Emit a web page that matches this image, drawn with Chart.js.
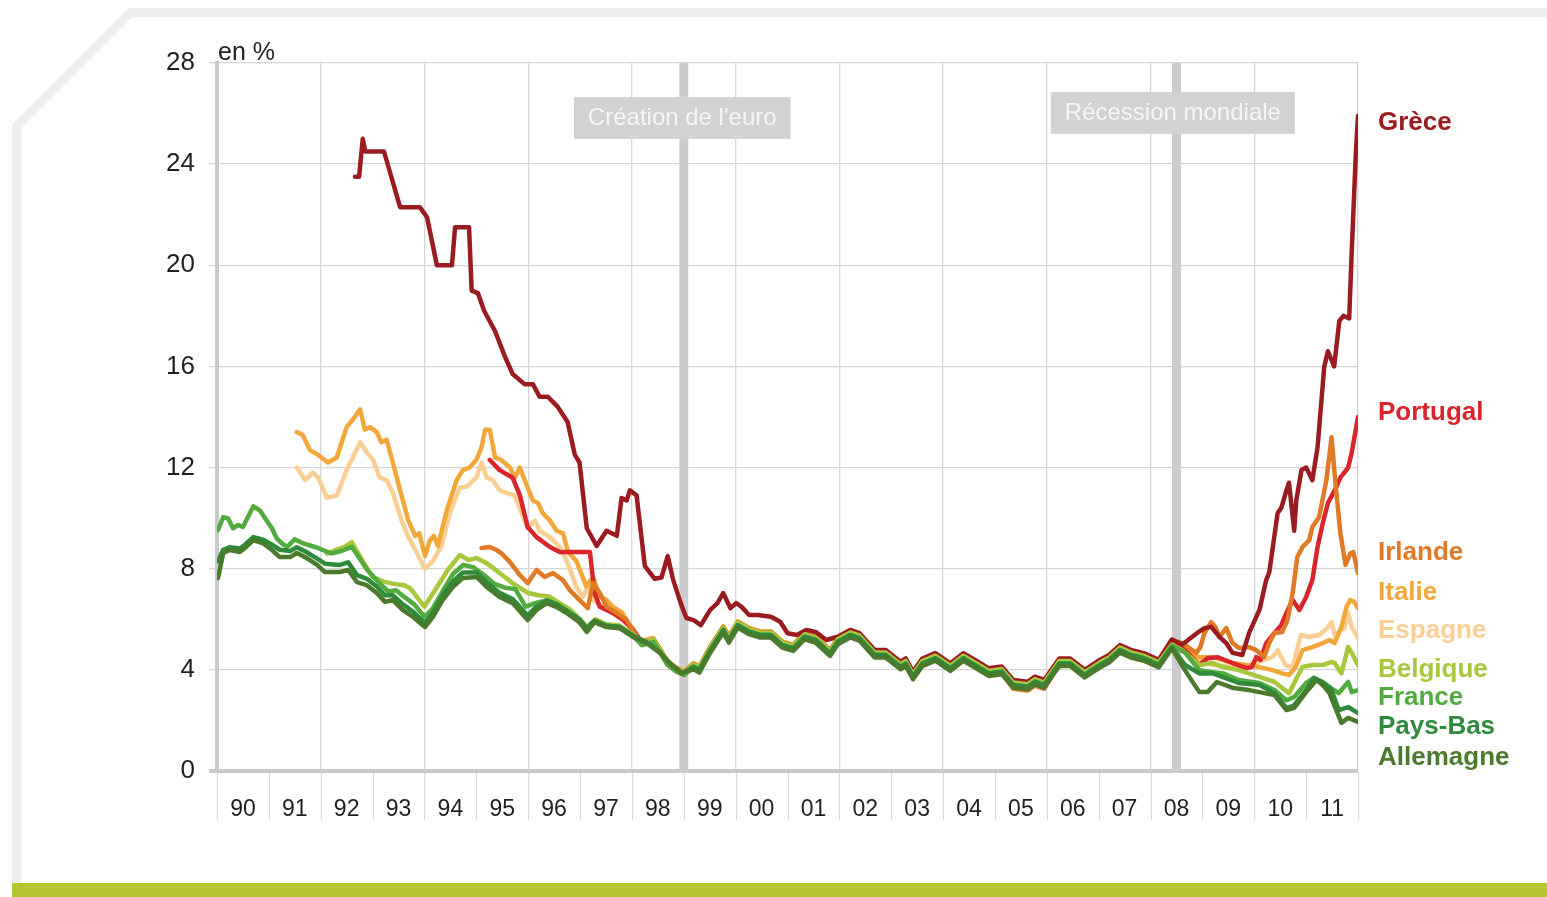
<!DOCTYPE html>
<html>
<head>
<meta charset="utf-8">
<script src="https://cdn.jsdelivr.net/npm/chart.js@4.4.1/dist/chart.umd.min.js"></script>
<style>
html,body{margin:0;padding:0;background:#ffffff;}
#wrap{position:relative;width:1547px;height:897px;}
canvas{display:block;}
</style>
</head>
<body>
<div id="wrap"><canvas id="c" width="1547" height="897"></canvas></div>
<script>
// ---------- DATA (taux d'intérêt à 10 ans, en %) ----------
const yearLabels = ['90','91','92','93','94','95','96','97','98','99','00','01','02','03','04','05','06','07','08','09','10','11'];

const grece = [[1992.66,23.5],[1992.74,23.5],[1992.81,25.0],[1992.86,24.5],[1993.22,24.5],[1993.53,22.3],[1993.91,22.3],[1994.05,21.9],[1994.24,20.0],[1994.53,20.0],[1994.59,21.5],[1994.86,21.5],[1994.91,19.0],[1995.03,18.9],[1995.15,18.2],[1995.36,17.4],[1995.55,16.4],[1995.70,15.7],[1995.93,15.3],[1996.09,15.3],[1996.22,14.8],[1996.38,14.8],[1996.57,14.4],[1996.76,13.8],[1996.90,12.5],[1996.99,12.2],[1997.13,9.6],[1997.32,8.9],[1997.51,9.5],[1997.71,9.3],[1997.80,10.8],[1997.90,10.7],[1997.96,11.1],[1998.09,10.9],[1998.25,8.1],[1998.44,7.6],[1998.57,7.65],[1998.69,8.5],[1998.79,7.6],[1998.94,6.64],[1999.05,6.05],[1999.19,5.97],[1999.33,5.77],[1999.51,6.37],[1999.65,6.64],[1999.76,7.04],[1999.90,6.44],[2000.01,6.64],[2000.11,6.5],[2000.26,6.17],[2000.43,6.17],[2000.68,6.1],[2000.86,5.9],[2001.00,5.45],[2001.18,5.38],[2001.36,5.58],[2001.54,5.5],[2001.75,5.18],
[2001.97,5.31],[2002.21,5.58],[2002.39,5.45],[2002.68,4.79],[2002.89,4.79],[2003.18,4.32],[2003.28,4.45],[2003.42,3.93],[2003.60,4.45],[2003.85,4.66],[2004.14,4.26],[2004.39,4.66],[2004.67,4.32],[2004.88,4.06],[2005.13,4.13],[2005.35,3.60],[2005.63,3.53],[2005.77,3.73],[2005.95,3.60],[2006.24,4.45],[2006.45,4.45],[2006.73,4.00],[2007.02,4.39],[2007.20,4.59],[2007.41,4.98],[2007.62,4.79],[2007.87,4.66],[2008.16,4.40],
[2008.41,5.2],[2008.61,5.0],[2008.90,5.46],[2009.04,5.65],[2009.17,5.7],[2009.33,5.3],[2009.46,5.06],[2009.58,4.67],[2009.77,4.59],[2009.90,5.46],[2010.10,6.37],[2010.23,7.55],[2010.29,7.87],[2010.45,10.2],[2010.52,10.4],[2010.62,11.1],[2010.67,11.4],[2010.77,9.5],[2010.81,10.7],[2010.91,11.9],[2011.00,12.0],[2011.12,11.5],[2011.22,12.8],[2011.35,16.0],[2011.42,16.6],[2011.54,16.0],[2011.64,17.8],[2011.72,18.0],[2011.83,17.9],[2011.88,20.6],[2011.96,24.5],[2012.00,25.9]];

const portugal = [[1995.26,12.3],[1995.45,11.9],[1995.70,11.6],[1995.84,10.9],[1995.99,9.65],[1996.16,9.25],[1996.42,8.86],[1996.61,8.66],[1997.19,8.66],[1997.28,7.04],[1997.38,6.5],[1997.63,6.25],[1997.82,6.0],[1998.02,5.6],
[1998.19,5.08],[1998.41,5.21],[1998.54,4.80],[1998.69,4.29],[1998.85,4.05],[1999.01,3.90],[1999.19,4.22],[1999.30,4.09],[1999.51,4.88],[1999.76,5.68],[1999.87,5.28],[2000.04,5.87],[2000.26,5.61],[2000.47,5.48],[2000.68,5.48],[2000.90,5.08],[2001.11,4.95],[2001.33,5.41],[2001.54,5.28],[2001.82,4.75],[2001.97,5.21],[2002.21,5.48],[2002.39,5.35],[2002.68,4.69],[2002.89,4.69],[2003.18,4.22],[2003.28,4.35],[2003.42,3.83],[2003.60,4.35],[2003.85,4.56],[2004.14,4.16],[2004.39,4.56],[2004.67,4.22],[2004.88,3.96],[2005.13,4.03],[2005.35,3.50],[2005.63,3.43],[2005.77,3.63],[2005.95,3.50],[2006.24,4.35],[2006.45,4.35],[2006.73,3.90],[2007.02,4.29],[2007.20,4.49],[2007.41,4.88],[2007.62,4.69],[2007.87,4.56],[2008.16,4.30],
[2008.41,5.15],[2008.61,4.9],[2008.94,4.19],[2009.10,4.46],[2009.30,4.5],[2009.58,4.27],[2009.85,4.07],[2009.95,4.11],[2010.04,4.5],[2010.12,4.39],[2010.23,5.06],[2010.39,5.46],[2010.52,5.77],[2010.62,6.25],[2010.74,6.76],[2010.87,6.37],[2011.00,6.88],[2011.12,7.55],[2011.22,8.86],[2011.32,9.8],[2011.42,10.6],[2011.55,11.1],[2011.66,11.6],[2011.81,12.0],[2011.88,12.6],[2012.00,14.0]];

const irlande = [[1995.10,8.82],[1995.26,8.86],[1995.39,8.74],[1995.48,8.62],[1995.65,8.26],[1995.84,7.75],[1995.99,7.43],[1996.16,7.95],[1996.32,7.67],[1996.48,7.83],[1996.67,7.55],[1996.80,7.16],[1996.99,6.76],[1997.15,6.44],[1997.25,7.43],[1997.38,7.04],[1997.51,6.5],[1997.71,6.25],[1997.90,5.97],
[1998.19,4.98],[1998.41,5.11],[1998.54,4.70],[1998.69,4.19],[1998.85,3.95],[1999.01,3.80],[1999.19,4.12],[1999.30,3.99],[1999.51,4.78],[1999.76,5.58],[1999.87,5.18],[2000.04,5.77],[2000.26,5.51],[2000.47,5.38],[2000.68,5.38],[2000.90,4.98],[2001.11,4.85],[2001.33,5.31],[2001.54,5.18],[2001.82,4.65],[2001.97,5.11],[2002.21,5.38],[2002.39,5.25],[2002.68,4.59],[2002.89,4.59],[2003.18,4.12],[2003.28,4.25],[2003.42,3.73],[2003.60,4.25],[2003.85,4.46],[2004.14,4.06],[2004.39,4.46],[2004.67,4.12],[2004.88,3.86],[2005.13,3.93],[2005.35,3.25],[2005.63,3.18],[2005.77,3.38],[2005.95,3.25],[2006.24,4.25],[2006.45,4.25],[2006.73,3.80],[2007.02,4.19],[2007.20,4.39],[2007.41,4.78],[2007.62,4.59],[2007.87,4.46],[2008.16,4.20],
[2008.41,5.18],[2008.61,5.06],[2008.88,4.67],[2008.96,4.9],[2009.04,5.46],[2009.17,5.89],[2009.25,5.69],[2009.33,5.3],[2009.46,5.65],[2009.58,5.06],[2009.71,4.86],[2009.90,4.9],[2010.04,4.78],[2010.19,4.5],[2010.29,5.06],[2010.39,5.46],[2010.54,5.5],[2010.64,5.97],[2010.74,7.04],[2010.83,8.46],[2010.93,8.86],[2011.06,9.13],[2011.12,9.65],[2011.25,10.04],[2011.39,11.5],[2011.49,13.2],[2011.56,11.5],[2011.66,9.4],[2011.76,8.15],[2011.85,8.6],[2011.91,8.66],[2012.00,7.83]];

const italie = [[1991.54,13.4],[1991.65,13.3],[1991.79,12.7],[1991.95,12.5],[1992.14,12.2],[1992.31,12.4],[1992.50,13.6],[1992.62,13.9],[1992.76,14.3],[1992.85,13.5],[1992.95,13.6],[1993.08,13.4],[1993.17,13.0],[1993.27,13.1],[1993.39,12.2],[1993.53,11.1],[1993.69,9.9],[1993.82,9.3],[1993.90,9.4],[1994.01,8.5],[1994.10,9.1],[1994.18,9.3],[1994.26,8.9],[1994.43,10.3],[1994.62,11.5],[1994.74,11.9],[1994.87,12.0],[1995.00,12.3],[1995.10,12.8],[1995.17,13.5],[1995.26,13.5],[1995.36,12.4],[1995.48,12.3],[1995.65,12.0],[1995.74,11.6],[1995.84,12.0],[1995.99,11.2],[1996.09,10.7],[1996.19,10.6],[1996.28,10.2],[1996.42,9.9],[1996.55,9.5],[1996.67,9.4],[1996.77,8.66],[1996.93,8.3],[1997.12,7.3],[1997.25,7.67],[1997.38,6.9],[1997.51,6.76],[1997.63,6.5],[1997.82,6.25],[1997.96,5.7],
[1998.19,5.13],[1998.41,5.26],[1998.54,4.85],[1998.69,4.34],[1998.85,4.10],[1999.01,3.95],[1999.19,4.27],[1999.30,4.14],[1999.51,4.93],[1999.76,5.73],[1999.87,5.33],[2000.04,5.92],[2000.26,5.66],[2000.47,5.53],[2000.68,5.53],[2000.90,5.13],[2001.11,5.00],[2001.33,5.46],[2001.54,5.33],[2001.82,4.80],[2001.97,5.26],[2002.21,5.53],[2002.39,5.40],[2002.68,4.74],[2002.89,4.74],[2003.18,4.27],[2003.28,4.40],[2003.42,3.88],[2003.60,4.40],[2003.85,4.61],[2004.14,4.21],[2004.39,4.61],[2004.67,4.27],[2004.88,4.01],[2005.13,4.08],[2005.35,3.55],[2005.63,3.48],[2005.77,3.68],[2005.95,3.55],[2006.24,4.40],[2006.45,4.40],[2006.73,3.95],[2007.02,4.34],[2007.20,4.54],[2007.41,4.93],[2007.62,4.74],[2007.87,4.61],[2008.16,4.35],
[2008.41,5.0],[2008.61,4.78],[2008.94,4.5],[2009.20,4.5],[2009.58,4.27],[2009.85,4.19],[2010.10,4.11],[2010.35,3.99],[2010.54,3.86],[2010.67,3.8],[2010.80,4.11],[2010.93,4.78],[2011.12,4.9],[2011.32,5.06],[2011.45,5.18],[2011.55,5.06],[2011.68,5.69],[2011.78,6.5],[2011.85,6.76],[2011.92,6.7],[2012.00,6.44]];

const espagne = [[1991.54,12.0],[1991.70,11.5],[1991.85,11.8],[1991.95,11.6],[1992.12,10.8],[1992.31,10.9],[1992.50,11.9],[1992.76,13.0],[1992.89,12.6],[1993.01,12.3],[1993.14,11.6],[1993.27,11.5],[1993.39,11.0],[1993.56,9.9],[1993.69,9.25],[1993.86,8.6],[1994.01,8.0],[1994.16,8.3],[1994.33,8.9],[1994.49,10.2],[1994.68,11.2],[1994.82,11.25],[1995.00,11.6],[1995.10,12.2],[1995.20,11.6],[1995.32,11.5],[1995.45,11.1],[1995.58,11.0],[1995.74,10.9],[1995.99,9.6],[1996.13,9.9],[1996.22,9.5],[1996.42,9.25],[1996.61,8.86],[1996.74,8.34],[1996.93,7.28],[1997.05,6.88],[1997.15,7.28],[1997.25,6.76],[1997.44,6.5],[1997.63,6.25],[1997.82,5.97],[1998.02,5.65],
[1998.19,4.98],[1998.41,5.11],[1998.54,4.70],[1998.69,4.19],[1998.85,3.95],[1999.01,3.80],[1999.19,4.12],[1999.30,3.99],[1999.51,4.78],[1999.76,5.58],[1999.87,5.18],[2000.04,5.77],[2000.26,5.51],[2000.47,5.38],[2000.68,5.38],[2000.90,4.98],[2001.11,4.85],[2001.33,5.31],[2001.54,5.18],[2001.82,4.65],[2001.97,5.11],[2002.21,5.38],[2002.39,5.25],[2002.68,4.59],[2002.89,4.59],[2003.18,4.12],[2003.28,4.25],[2003.42,3.73],[2003.60,4.25],[2003.85,4.46],[2004.14,4.06],[2004.39,4.46],[2004.67,4.12],[2004.88,3.86],[2005.13,3.93],[2005.35,3.40],[2005.63,3.33],[2005.77,3.53],[2005.95,3.40],[2006.24,4.25],[2006.45,4.25],[2006.73,3.80],[2007.02,4.19],[2007.20,4.39],[2007.41,4.78],[2007.62,4.59],[2007.87,4.46],[2008.16,4.20],
[2008.41,5.0],[2008.61,4.78],[2008.94,4.39],[2009.20,4.19],[2009.58,4.11],[2009.85,4.11],[2010.00,4.27],[2010.35,4.5],[2010.45,4.78],[2010.60,4.19],[2010.74,4.11],[2010.90,5.38],[2011.06,5.3],[2011.25,5.38],[2011.41,5.65],[2011.49,5.89],[2011.56,5.3],[2011.66,5.58],[2011.74,5.65],[2011.81,6.25],[2011.88,5.69],[2012.00,5.26]];

const belgique = [[1992.12,8.6],[1992.30,8.75],[1992.45,8.85],[1992.60,9.05],[1992.82,8.26],[1993.00,7.67],[1993.20,7.5],[1993.40,7.4],[1993.60,7.35],[1993.72,7.24],[1994.00,6.5],[1994.23,7.24],[1994.45,7.95],[1994.68,8.54],[1994.85,8.34],[1995.00,8.42],[1995.20,8.22],[1995.45,7.83],[1995.70,7.43],[1996.00,7.04],[1996.20,6.95],[1996.40,6.9],[1996.60,6.65],[1996.80,6.4],[1997.00,6.0],[1997.13,5.7],[1997.30,6.0],[1997.50,5.8],[1997.76,5.75],[1998.02,5.4],
[1998.19,5.08],[1998.41,5.21],[1998.54,4.80],[1998.69,4.29],[1998.85,4.05],[1999.01,3.90],[1999.19,4.22],[1999.30,4.09],[1999.51,4.88],[1999.76,5.68],[1999.87,5.28],[2000.04,5.87],[2000.26,5.61],[2000.47,5.48],[2000.68,5.48],[2000.90,5.08],[2001.11,4.95],[2001.33,5.41],[2001.54,5.28],[2001.82,4.75],[2001.97,5.21],[2002.21,5.48],[2002.39,5.35],[2002.68,4.69],[2002.89,4.69],[2003.18,4.22],[2003.28,4.35],[2003.42,3.83],[2003.60,4.35],[2003.85,4.56],[2004.14,4.16],[2004.39,4.56],[2004.67,4.22],[2004.88,3.96],[2005.13,4.03],[2005.35,3.50],[2005.63,3.43],[2005.77,3.63],[2005.95,3.50],[2006.24,4.35],[2006.45,4.35],[2006.73,3.90],[2007.02,4.29],[2007.20,4.49],[2007.41,4.88],[2007.62,4.69],[2007.87,4.56],[2008.16,4.30],
[2008.41,5.0],[2008.61,4.78],[2008.94,4.19],[2009.20,4.27],[2009.40,4.11],[2009.70,3.99],[2010.10,3.72],[2010.39,3.52],[2010.54,3.28],[2010.67,3.08],[2010.80,3.6],[2010.93,4.11],[2011.12,4.19],[2011.32,4.19],[2011.48,4.31],[2011.55,4.27],[2011.68,3.86],[2011.81,4.9],[2011.88,4.67],[2012.00,4.19]];

const france = [[1990.02,9.53],[1990.12,10.04],[1990.21,10.0],[1990.31,9.6],[1990.41,9.73],[1990.50,9.65],[1990.70,10.47],[1990.83,10.3],[1990.96,9.9],[1991.06,9.6],[1991.15,9.2],[1991.25,9.0],[1991.35,8.86],[1991.50,9.17],[1991.66,9.0],[1991.89,8.86],[1992.04,8.74],[1992.20,8.6],[1992.40,8.7],[1992.60,8.86],[1992.75,8.4],[1992.90,7.95],[1993.10,7.5],[1993.30,7.1],[1993.45,7.15],[1993.60,6.9],[1993.80,6.6],[1994.00,6.1],[1994.15,6.4],[1994.35,7.1],[1994.55,7.8],[1994.75,8.15],[1994.95,8.05],[1995.15,7.75],[1995.35,7.4],[1995.55,7.25],[1995.75,7.2],[1995.95,6.5],[1996.15,6.65],[1996.35,6.75],[1996.55,6.5],[1996.75,6.3],[1996.95,5.95],[1997.13,5.6],[1997.30,5.92],[1997.50,5.72],[1997.76,5.7],[1998.02,5.35],
[1998.19,4.98],[1998.41,5.11],[1998.54,4.70],[1998.69,4.19],[1998.85,3.95],[1999.01,3.80],[1999.19,4.12],[1999.30,3.99],[1999.51,4.78],[1999.76,5.58],[1999.87,5.18],[2000.04,5.77],[2000.26,5.51],[2000.47,5.38],[2000.68,5.38],[2000.90,4.98],[2001.11,4.85],[2001.33,5.31],[2001.54,5.18],[2001.82,4.65],[2001.97,5.11],[2002.21,5.38],[2002.39,5.25],[2002.68,4.59],[2002.89,4.59],[2003.18,4.12],[2003.28,4.25],[2003.42,3.73],[2003.60,4.25],[2003.85,4.46],[2004.14,4.06],[2004.39,4.46],[2004.67,4.12],[2004.88,3.86],[2005.13,3.93],[2005.35,3.40],[2005.63,3.33],[2005.77,3.53],[2005.95,3.40],[2006.24,4.25],[2006.45,4.25],[2006.73,3.80],[2007.02,4.19],[2007.20,4.39],[2007.41,4.78],[2007.62,4.59],[2007.87,4.46],[2008.16,4.20],
[2008.41,4.95],[2008.66,4.7],[2008.94,3.99],[2009.20,3.91],[2009.40,3.86],[2009.70,3.6],[2010.10,3.48],[2010.39,3.2],[2010.62,2.8],[2010.77,2.93],[2011.00,3.48],[2011.15,3.68],[2011.32,3.52],[2011.48,3.28],[2011.63,3.08],[2011.81,3.52],[2011.88,3.12],[2012.00,3.2]];

const paysBas = [[1990.02,8.3],[1990.12,8.75],[1990.25,8.85],[1990.44,8.8],[1990.54,8.95],[1990.70,9.25],[1990.89,9.15],[1991.06,8.95],[1991.21,8.75],[1991.41,8.7],[1991.54,8.85],[1991.73,8.65],[1991.93,8.4],[1992.08,8.2],[1992.37,8.15],[1992.53,8.25],[1992.70,7.75],[1992.89,7.6],[1993.08,7.3],[1993.24,6.95],[1993.39,6.95],[1993.58,6.6],[1993.78,6.3],[1994.01,5.85],[1994.16,6.25],[1994.35,6.95],[1994.55,7.5],[1994.74,7.85],[1995.01,7.85],[1995.20,7.45],[1995.45,7.05],[1995.70,6.8],[1995.99,6.15],[1996.16,6.5],[1996.36,6.75],[1996.55,6.6],[1996.74,6.35],[1996.99,6.0],[1997.13,5.65],[1997.28,5.95],[1997.51,5.75],[1997.76,5.7],[1998.02,5.35],[1998.28,5.1],[1998.54,4.7],[1998.73,4.25],[1998.96,3.85],
[1999.19,4.12],[1999.30,3.99],[1999.51,4.78],[1999.76,5.58],[1999.87,5.18],[2000.04,5.77],[2000.26,5.51],[2000.47,5.38],[2000.68,5.38],[2000.90,4.98],[2001.11,4.85],[2001.33,5.31],[2001.54,5.18],[2001.82,4.65],[2001.97,5.11],[2002.21,5.38],[2002.39,5.25],[2002.68,4.59],[2002.89,4.59],[2003.18,4.12],[2003.28,4.25],[2003.42,3.73],[2003.60,4.25],[2003.85,4.46],[2004.14,4.06],[2004.39,4.46],[2004.67,4.12],[2004.88,3.86],[2005.13,3.93],[2005.35,3.40],[2005.63,3.33],[2005.77,3.53],[2005.95,3.40],[2006.24,4.25],[2006.45,4.25],[2006.73,3.80],[2007.02,4.19],[2007.20,4.39],[2007.41,4.78],[2007.62,4.59],[2007.87,4.46],[2008.16,4.20],
[2008.41,4.9],[2008.66,4.2],[2008.94,3.86],[2009.20,3.86],[2009.70,3.48],[2010.10,3.4],[2010.39,3.08],[2010.62,2.49],[2010.77,2.6],[2011.00,3.2],[2011.15,3.68],[2011.32,3.5],[2011.48,3.24],[2011.63,2.41],[2011.81,2.53],[2012.00,2.29]];

const allemagne = [[1990.02,7.63],[1990.12,8.62],[1990.25,8.74],[1990.44,8.66],[1990.54,8.82],[1990.70,9.13],[1990.89,9.0],[1991.06,8.74],[1991.21,8.46],[1991.41,8.46],[1991.54,8.62],[1991.73,8.42],[1991.93,8.15],[1992.08,7.87],[1992.37,7.87],[1992.53,7.95],[1992.70,7.47],[1992.89,7.35],[1993.08,7.04],[1993.24,6.69],[1993.39,6.76],[1993.58,6.37],[1993.78,6.09],[1994.01,5.69],[1994.16,6.09],[1994.35,6.76],[1994.55,7.28],[1994.74,7.63],[1995.01,7.67],[1995.20,7.28],[1995.45,6.88],[1995.70,6.64],[1995.99,5.97],[1996.16,6.37],[1996.36,6.64],[1996.55,6.48],[1996.74,6.25],[1996.99,5.89],[1997.13,5.50],[1997.28,5.89],[1997.51,5.69],[1997.76,5.65],[1998.02,5.30],[1998.28,5.06],[1998.54,4.67],[1998.73,4.27],[1998.96,3.88],
[1999.19,4.02],[1999.30,3.89],[1999.51,4.68],[1999.76,5.48],[1999.87,5.08],[2000.04,5.67],[2000.26,5.41],[2000.47,5.28],[2000.68,5.28],[2000.90,4.88],[2001.11,4.75],[2001.33,5.21],[2001.54,5.08],[2001.82,4.55],[2001.97,5.01],[2002.21,5.28],[2002.39,5.15],[2002.68,4.49],[2002.89,4.49],[2003.18,4.02],[2003.28,4.15],[2003.42,3.63],[2003.60,4.15],[2003.85,4.36],[2004.14,3.96],[2004.39,4.36],[2004.67,4.02],[2004.88,3.76],[2005.13,3.83],[2005.35,3.30],[2005.63,3.23],[2005.77,3.43],[2005.95,3.30],[2006.24,4.15],[2006.45,4.15],[2006.73,3.70],[2007.02,4.09],[2007.20,4.29],[2007.41,4.68],[2007.62,4.49],[2007.87,4.36],[2008.16,4.10],
[2008.41,4.85],[2008.66,4.0],[2008.94,3.12],[2009.10,3.12],[2009.28,3.52],[2009.60,3.28],[2009.90,3.2],[2010.39,3.0],[2010.62,2.41],[2010.77,2.5],[2011.00,3.12],[2011.20,3.6],[2011.32,3.4],[2011.45,3.08],[2011.68,1.9],[2011.81,2.1],[2012.00,1.94]];

const eventYears = [1999.0, 2008.5];
const eventTexts = ["Création de l'euro", "Récession mondiale"];

// ---------- STYLE / LAYOUT ----------
const FONT = '"Liberation Sans", Arial, sans-serif';
const series = [
  {name:'Allemagne', data:allemagne, color:'#4a7b2d', labelLevel:0.51},
  {name:'Pays-Bas',  data:paysBas,   color:'#2f8a3c', labelLevel:1.74},
  {name:'France',    data:france,    color:'#52ab3f', labelLevel:2.89},
  {name:'Belgique',  data:belgique,  color:'#a8c73a', labelLevel:4.0},
  {name:'Grèce',     data:grece,     color:'#9a1c20', labelLevel:25.62},
  {name:'Irlande',   data:irlande,   color:'#e07a26', labelLevel:8.62},
  {name:'Portugal',  data:portugal,  color:'#d9252b', labelLevel:14.16},
  {name:'Italie',    data:italie,    color:'#f2a73b', labelLevel:7.04},
  {name:'Espagne',   data:espagne,   color:'#f9cf94', labelLevel:5.54}
];
const eventBoxes = [
  {centerYear:1998.97, textLevel:25.82, top:26.65, bottom:25.0},
  {centerYear:2008.43, textLevel:26.02, top:26.85, bottom:25.2}
];

const decor = {
  id:'decor',
  beforeDraw(chart){
    const c = chart.ctx;
    c.save();
    c.fillStyle = '#ffffff';
    c.fillRect(0,0,chart.width,chart.height);
    c.strokeStyle = '#eceeef';
    c.lineWidth = 9;
    c.lineJoin = 'miter';
    c.beginPath();
    c.moveTo(16.5, 884);
    c.lineTo(16.5, 126.4);
    c.lineTo(130.4, 12.5);
    c.lineTo(chart.width + 10, 12.5);
    c.stroke();
    c.fillStyle = '#b6c530';
    c.fillRect(12, 883, chart.width - 12, 14);
    c.restore();
  },
  beforeDatasetsDraw(chart){
    const c = chart.ctx, xs = chart.scales.xData, ys = chart.scales.y, a = chart.chartArea;
    c.save();
    c.strokeStyle = '#cbcccd';
    c.lineWidth = 9;
    eventYears.forEach(yr => {
      const px = xs.getPixelForValue(yr);
      c.beginPath(); c.moveTo(px, a.top); c.lineTo(px, a.bottom); c.stroke();
    });
    c.font = '24px ' + FONT;
    eventBoxes.forEach((b, i) => {
      const w = c.measureText(eventTexts[i]).width + 28;
      const cx = xs.getPixelForValue(b.centerYear);
      const t = ys.getPixelForValue(b.top), bt = ys.getPixelForValue(b.bottom);
      c.fillStyle = '#d1d2d3';
      c.fillRect(cx - w/2, t, w, bt - t);
      c.fillStyle = '#f6f6f6';
      c.textAlign = 'center';
      c.textBaseline = 'middle';
      c.fillText(eventTexts[i], cx, ys.getPixelForValue(b.textLevel));
    });
    c.restore();
  },
  afterDraw(chart){
    const c = chart.ctx, xs = chart.scales.xData, ys = chart.scales.y, a = chart.chartArea;
    c.save();
    c.strokeStyle = '#dadada';
    c.lineWidth = 1.2;
    for (let i = 0; i <= yearLabels.length; i++) {
      const px = Math.round(xs.getPixelForValue(1990 + i)) + 0.5;
      c.beginPath(); c.moveTo(px, a.bottom + 2); c.lineTo(px, a.bottom + 49); c.stroke();
    }
    c.fillStyle = '#231f20';
    c.font = '25px ' + FONT;
    c.textAlign = 'left';
    c.textBaseline = 'alphabetic';
    c.fillText('en %', a.left + 1, a.top - 3);
    c.font = 'bold 26px ' + FONT;
    c.textBaseline = 'middle';
    series.forEach(s => {
      c.fillStyle = s.color;
      c.fillText(s.name, a.right + 20, ys.getPixelForValue(s.labelLevel));
    });
    c.restore();
  }
};

new Chart(document.getElementById('c'), {
  type:'line',
  data:{
    labels: yearLabels,
    datasets: series.map(s => ({
      label: s.name,
      data: s.data.map(p => ({x:p[0], y:p[1]})),
      borderColor: s.color,
      borderWidth: 4.5,
      pointRadius: 0,
      tension: 0,
      fill: false,
      borderJoinStyle: 'round',
      borderCapStyle: 'round',
      xAxisID: 'xData',
      yAxisID: 'y'
    }))
  },
  options:{
    responsive:false,
    animation:false,
    layout:{padding:{left:0, right:189, top:63, bottom:66}},
    plugins:{legend:{display:false}, tooltip:{enabled:false}},
    scales:{
      xData:{type:'linear', min:1990, max:2012, display:false},
      x:{
        type:'category', position:'bottom', offset:true,
        grid:{offset:true, drawTicks:false, lineWidth:1.3,
          color: ctx => (ctx.type !== 'tick' || ctx.index % 2 === 0) ? '#d6d6d6' : 'rgba(0,0,0,0)'},
        border:{display:true, color:'#c9cacb', width:4},
        ticks:{font:{family:'Liberation Sans', size:23}, color:'#231f20', padding:25, maxRotation:0, autoSkip:false},
        afterFit: s => { s.height = 60; }
      },
      y:{
        type:'linear', min:0, max:28,
        ticks:{stepSize:4, font:{family:'Liberation Sans', size:26}, color:'#231f20', padding:14},
        grid:{tickLength:8, lineWidth: ctx => ctx.tick && ctx.tick.value === 0 ? 4 : 1.3,
              color: ctx => ctx.tick && ctx.tick.value === 0 ? '#c9cacb' : '#d6d6d6'},
        border:{display:true, color:'#c9cacb', width:4},
        afterFit: s => { s.width = 217; }
      }
    }
  },
  plugins:[decor]
});
</script>
</body>
</html>
